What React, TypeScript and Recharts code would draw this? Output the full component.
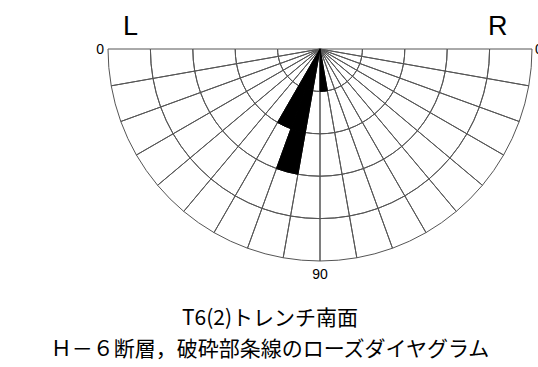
import { PieChart, Pie, Cell } from "recharts";

// 10-degree classes, measured from the left horizontal (0) through vertical (90)
const sectors = [
  "0-10", "10-20", "20-30", "30-40", "40-50", "50-60",
  "60-70", "70-80", "80-90", "90-100", "100-110", "110-120",
  "120-130", "130-140", "140-150", "150-160", "160-170", "170-180",
];
// number of striations in each class
const counts = [0, 0, 0, 0, 0, 0, 2, 3, 0, 1, 0, 0, 0, 0, 0, 0, 0, 0];
const rings = [1, 2, 3, 4, 5];

const edgeLabels = ["0", "90", "0"];
const sideLabels = ["L", "R"];
const titleLines = ["T6(2)トレンチ南面", "Ｈ－６断層，破砕部条線のローズダイヤグラム"];

const W = 538;
const H = 367;
const CX = 320;
const CY = 49;
const R = 212;
const step = R / rings.length;

const wedgeData = sectors.map((s, i) => ({ sector: s, count: counts[i], span: 1 }));

export default function App() {
  return (
    <div style={{ position: "absolute", left: 0, top: 0, width: W, height: H, background: "#fff" }}>
      <PieChart width={W} height={H} margin={{ top: 0, right: 0, bottom: 0, left: 0 }}>
        {/* grid: one ring of 18 empty sectors per count level */}
        {rings.map((k) => (
          <Pie
            key={`grid-${k}`}
            data={wedgeData}
            dataKey="span"
            nameKey="sector"
            cx={CX}
            cy={CY}
            startAngle={180}
            endAngle={360}
            innerRadius={(k - 1) * step}
            outerRadius={k * step}
            paddingAngle={0}
            isAnimationActive={false}
            legendType="none"
          >
            {wedgeData.map((d, i) => (
              <Cell key={`g-${k}-${i}`} fill="none" stroke="#555" strokeWidth={1} />
            ))}
          </Pie>
        ))}
        {/* petals: fill each ring segment up to the class count */}
        {rings.map((k) => (
          <Pie
            key={`rose-${k}`}
            data={wedgeData}
            dataKey="span"
            nameKey="sector"
            cx={CX}
            cy={CY}
            startAngle={180}
            endAngle={360}
            innerRadius={(k - 1) * step}
            outerRadius={k * step}
            paddingAngle={0}
            isAnimationActive={false}
            legendType="none"
          >
            {wedgeData.map((d, i) => (
              <Cell
                key={`r-${k}-${i}`}
                fill={d.count >= k ? "#000" : "none"}
                stroke={d.count >= k ? "#000" : "none"}
                strokeWidth={1}
              />
            ))}
          </Pie>
        ))}
      </PieChart>

      <svg
        width={W}
        height={H}
        style={{ position: "absolute", left: 0, top: 0, pointerEvents: "none" }}
      >
        <g fontFamily="'Liberation Sans', Arial, sans-serif" fill="#000">
          <text x={123} y={35} fontSize={27}>{sideLabels[0]}</text>
          <text x={488} y={35} fontSize={27}>{sideLabels[1]}</text>
          <text x={104} y={54} fontSize={14} textAnchor="end">{edgeLabels[0]}</text>
          <text x={CX} y={279} fontSize={14} textAnchor="middle">{edgeLabels[1]}</text>
          <text x={535} y={54} fontSize={14}>{edgeLabels[2]}</text>
        </g>
        <g fontFamily="'Noto Sans CJK JP', sans-serif" fill="#000" fontSize={21} textAnchor="middle">
          <text x={270} y={325}>{titleLines[0]}</text>
          <text x={270} y={356}>{titleLines[1]}</text>
        </g>
      </svg>
    </div>
  );
}
